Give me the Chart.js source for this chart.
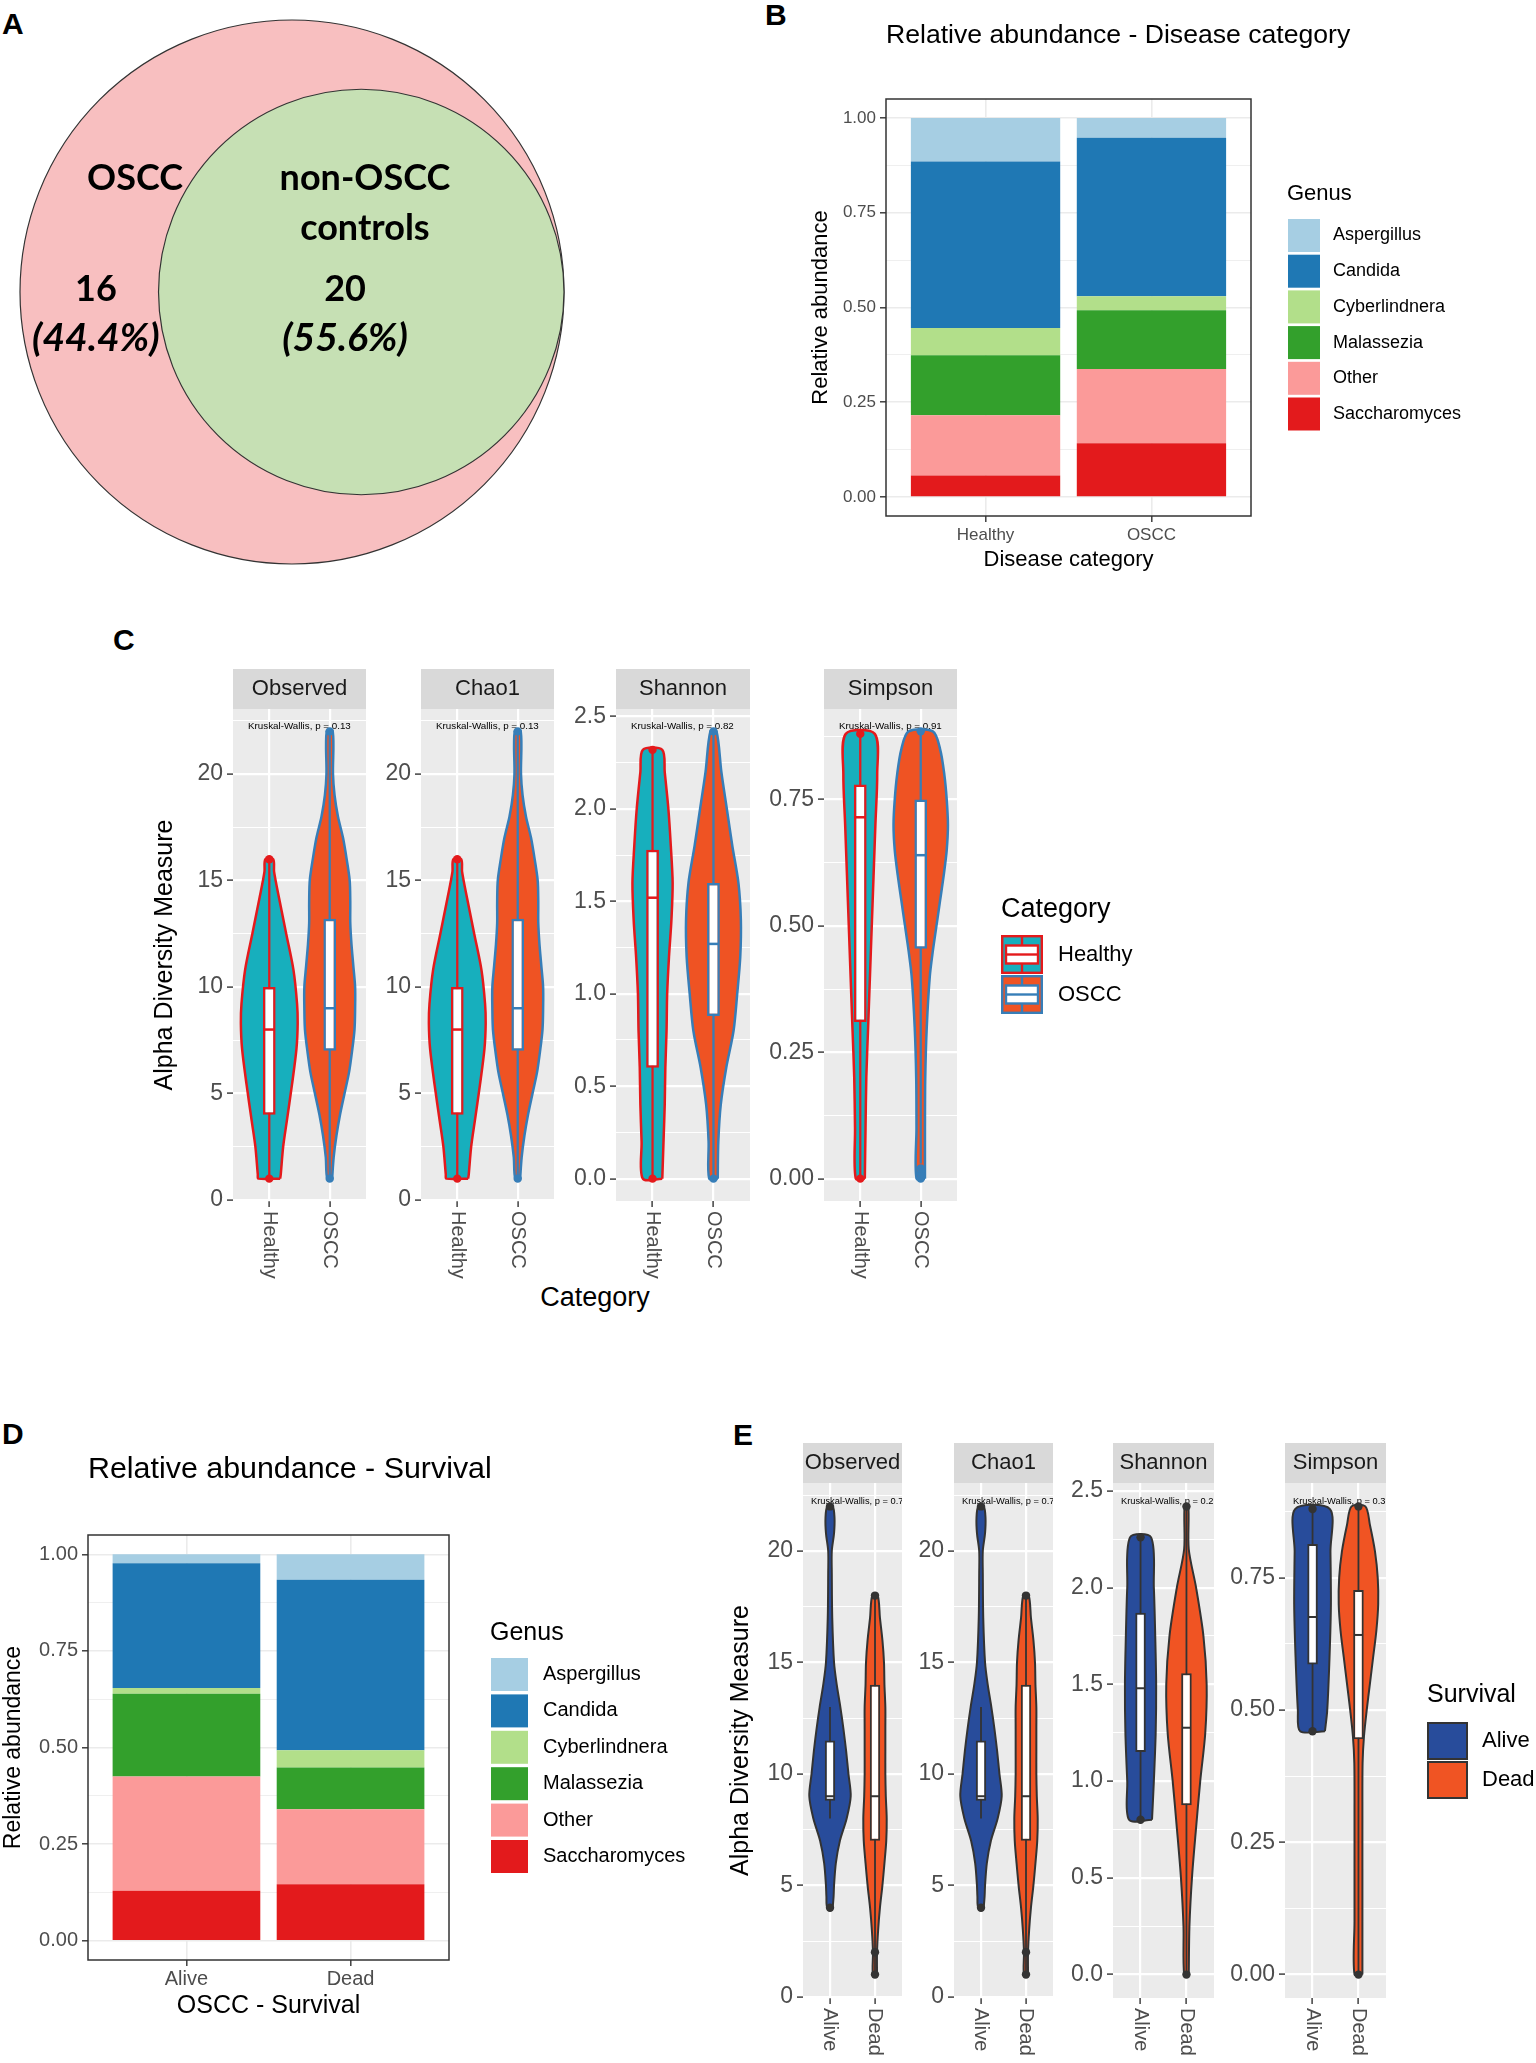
<!DOCTYPE html>
<html>
<head>
<meta charset="utf-8">
<script src="https://cdn.jsdelivr.net/npm/chart.js@4.4.1/dist/chart.umd.min.js"></script>
<style>
  html, body { margin:0; padding:0; background:#ffffff; }
  body { position:relative; width:1536px; height:2063px; overflow:hidden; font-family:'Liberation Sans', Arial, sans-serif; }
  canvas { position:absolute; }
  .plabel { position:absolute; font:bold 30px 'Liberation Sans', Arial, sans-serif; line-height:30px; color:#000; }
  .axtitle { position:absolute; white-space:nowrap; color:#000; transform:translate(-50%,-50%); font-family:'Liberation Sans', Arial, sans-serif; line-height:1; }
</style>
</head>
<body>
<div class="plabel" style="left:2px;top:9px">A</div>
<div class="plabel" style="left:765px;top:0px">B</div>
<div class="plabel" style="left:113px;top:625px">C</div>
<div class="plabel" style="left:2px;top:1419px">D</div>
<div class="plabel" style="left:733px;top:1420px">E</div>
<div class="axtitle" style="left:595px;top:1297px;font-size:27px">Category</div>
<script>
// ======================= DATA =======================
// Panel A (Venn)
const vennGroups = ['OSCC', 'non-OSCC controls'];
const vennCounts = [16, 20];
const vennPercents = ['(44.4%)', '(55.6%)'];

// Panels B & D (relative abundance, stacked)
const genera = ['Aspergillus', 'Candida', 'Cyberlindnera', 'Malassezia', 'Other', 'Saccharomyces'];
const diseaseCategories = ['Healthy', 'OSCC'];
const abundanceHealthy = [0.115, 0.439, 0.072, 0.158, 0.159, 0.057];
const abundanceOSCC    = [0.052, 0.418, 0.037, 0.155, 0.196, 0.142];
const survivalCategories = ['Alive', 'Dead'];
const abundanceAlive = [0.023, 0.323, 0.015, 0.214, 0.296, 0.129];
const abundanceDead  = [0.066, 0.441, 0.045, 0.108, 0.194, 0.146];
const abundanceTicks = [0, 0.25, 0.5, 0.75, 1];
const abundanceTickLabels = ['0.00', '0.25', '0.50', '0.75', '1.00'];

// Panels C & E (alpha diversity violins)
const alphaMetrics = ['Observed', 'Chao1', 'Shannon', 'Simpson'];
const richnessTicks = [0, 5, 10, 15, 20];
const richnessTickLabels = ['0', '5', '10', '15', '20'];
const shannonTicks = [0, 0.5, 1, 1.5, 2, 2.5];
const shannonTickLabels = ['0.0', '0.5', '1.0', '1.5', '2.0', '2.5'];
const simpsonTicks = [0, 0.25, 0.5, 0.75];
const simpsonTickLabels = ['0.00', '0.25', '0.50', '0.75'];
const cKruskalLabels = ['Kruskal-Wallis, p = 0.13', 'Kruskal-Wallis, p = 0.13', 'Kruskal-Wallis, p = 0.82', 'Kruskal-Wallis, p = 0.91'];
const eKruskalLabels = ['Kruskal-Wallis, p = 0.7', 'Kruskal-Wallis, p = 0.7', 'Kruskal-Wallis, p = 0.2', 'Kruskal-Wallis, p = 0.3'];

// C: Observed (Chao1 shows the same values)
const cObsHealthyLevels = [1, 1.2, 2.5, 3.7, 5.4, 7.1, 8.3, 9.2, 10.8, 12.5, 14.2, 15.4, 16];
const cObsHealthyWidths = [0.18, 0.19, 0.23, 0.29, 0.375, 0.45, 0.47, 0.46, 0.40, 0.28, 0.16, 0.08, 0.065];
const cObsHealthyBox = [1, 4, 8, 10, 16];
const cObsHealthyPoints = [1, 16];
const cObsOsccLevels = [1, 2, 3, 4, 5, 6, 7, 8, 9, 10, 11, 12, 13, 14, 15, 16, 17, 18, 19, 20, 22];
const cObsOsccWidths = [0.04, 0.065, 0.11, 0.17, 0.245, 0.32, 0.37, 0.41, 0.42, 0.42, 0.39, 0.36, 0.34, 0.34, 0.33, 0.28, 0.22, 0.136, 0.08, 0.054, 0.05];
const cObsOsccBox = [1, 7, 9, 13.2, 22];
const cObsOsccPoints = [1, 22];
// C: Shannon
const cShanHealthyLevels = [0, 0.2, 0.4, 0.6, 0.8, 1.0, 1.2, 1.4, 1.6, 1.8, 2.0, 2.2, 2.32];
const cShanHealthyWidths = [0.16, 0.18, 0.20, 0.21, 0.23, 0.24, 0.27, 0.31, 0.33, 0.30, 0.26, 0.20, 0.16];
const cShanHealthyBox = [0, 0.6, 1.52, 1.78, 2.32];
const cShanHealthyPoints = [0, 2.32];
const cShanOsccLevels = [0, 0.2, 0.4, 0.6, 0.8, 1.0, 1.2, 1.4, 1.6, 1.8, 2.0, 2.2, 2.42];
const cShanOsccWidths = [0.07, 0.08, 0.12, 0.21, 0.33, 0.39, 0.44, 0.45, 0.41, 0.31, 0.22, 0.13, 0.05];
const cShanOsccBox = [0, 0.88, 1.27, 1.6, 2.42];
const cShanOsccPoints = [0, 2.42];
// C: Simpson
const cSimpHealthyLevels = [0, 0.1, 0.2, 0.3, 0.4, 0.5, 0.6, 0.7, 0.8, 0.88];
const cSimpHealthyWidths = [0.075, 0.087, 0.10, 0.13, 0.16, 0.19, 0.22, 0.25, 0.28, 0.24];
const cSimpHealthyBox = [0, 0.31, 0.715, 0.78, 0.88];
const cSimpHealthyPoints = [0, 0.88];
const cSimpOsccLevels = [0, 0.1, 0.2, 0.3, 0.4, 0.45, 0.5, 0.55, 0.6, 0.65, 0.7, 0.75, 0.8, 0.85, 0.885];
const cSimpOsccWidths = [0.07, 0.07, 0.075, 0.10, 0.15, 0.20, 0.26, 0.32, 0.38, 0.43, 0.45, 0.43, 0.39, 0.32, 0.20];
const cSimpOsccBox = [0.03, 0.455, 0.64, 0.75, 0.885];
const cSimpOsccPoints = [0, 0.01, 0.02, 0.885];

// E: Observed (Chao1 shows the same values)
const eObsAliveLevels = [4, 4.5, 5, 6, 7, 8, 9, 10, 11, 12, 13, 14, 15, 17, 19, 20, 20.8, 21.5, 22];
const eObsAliveWidths = [0.06, 0.08, 0.09, 0.13, 0.22, 0.37, 0.46, 0.41, 0.36, 0.30, 0.23, 0.15, 0.09, 0.05, 0.04, 0.04, 0.09, 0.10, 0.06];
const eObsAliveBox = [8, 8.8, 9, 11.5, 13];
const eObsAlivePoints = [4, 22];
const eObsDeadLevels = [1, 2, 3, 4, 5, 6, 7, 8, 9, 10, 11, 12, 13, 14, 15, 16, 17, 18];
const eObsDeadWidths = [0.045, 0.045, 0.07, 0.11, 0.165, 0.21, 0.25, 0.26, 0.24, 0.23, 0.23, 0.23, 0.23, 0.21, 0.2, 0.165, 0.11, 0.06];
const eObsDeadBox = [1, 7, 9, 14, 18];
const eObsDeadPoints = [1, 2, 18];
// E: Shannon
const eShanAliveLevels = [0.8, 1.0, 1.25, 1.5, 1.75, 2.0, 2.26];
const eShanAliveWidths = [0.25, 0.29, 0.33, 0.34, 0.32, 0.29, 0.23];
const eShanAliveBox = [0.8, 1.15, 1.48, 1.87, 2.26];
const eShanAlivePoints = [0.8, 2.26];
const eShanDeadLevels = [0, 0.25, 0.5, 0.76, 1.0, 1.25, 1.5, 1.75, 2.0, 2.2, 2.42];
const eShanDeadWidths = [0.05, 0.065, 0.12, 0.21, 0.30, 0.41, 0.44, 0.37, 0.21, 0.05, 0.04];
const eShanDeadBox = [0, 0.875, 1.276, 1.557, 2.42];
const eShanDeadPoints = [0, 2.42];
// E: Simpson
const eSimpAliveLevels = [0.46, 0.5, 0.6, 0.7, 0.8, 0.88];
const eSimpAliveWidths = [0.27, 0.32, 0.37, 0.40, 0.39, 0.38];
const eSimpAliveBox = [0.46, 0.586, 0.676, 0.814, 0.88];
const eSimpAlivePoints = [0.46, 0.88];
const eSimpDeadLevels = [0, 0.1, 0.2, 0.3, 0.4, 0.45, 0.5, 0.55, 0.6, 0.65, 0.7, 0.75, 0.8, 0.85, 0.885];
const eSimpDeadWidths = [0.086, 0.086, 0.086, 0.086, 0.09, 0.12, 0.18, 0.25, 0.32, 0.39, 0.43, 0.42, 0.36, 0.25, 0.15];
const eSimpDeadBox = [0, 0.445, 0.642, 0.727, 0.885];
const eSimpDeadPoints = [0, 0.885];

// ======================= STYLE =======================
const FONT = "'Liberation Sans', Arial, Helvetica, sans-serif";
const genusColors = ['#A6CEE3', '#1F78B4', '#B2DF8A', '#33A02C', '#FB9A99', '#E31A1C'];
const cStyles = [{fill:'#17AFBD', line:'#E41A1C'}, {fill:'#EF5323', line:'#377EB8'}];
const eStyles = [{fill:'#284C9B', line:'#333333'}, {fill:'#F05423', line:'#333333'}];

// ======================= HELPERS =======================
function addCanvas(l, t, w, h) {
  const c = document.createElement('canvas');
  c.width = w; c.height = h;
  c.style.left = l + 'px'; c.style.top = t + 'px';
  c.style.width = w + 'px'; c.style.height = h + 'px';
  document.body.appendChild(c);
  return c;
}
const near = (a, b) => Math.abs(a - b) < 1e-6;
function tickSet(majors, min, max) {
  const step = majors[1] - majors[0];
  const vals = [];
  majors.forEach(m => { vals.push(m - step / 2, m, m + step / 2); });
  const uniq = [];
  vals.forEach(v => { if (v >= min - 1e-9 && v <= max + 1e-9 && !uniq.some(u => near(u, v))) uniq.push(v); });
  return uniq.sort((a, b) => a - b);
}
function yScaleGG(o) {
  const isMajor = c => c.tick && o.majors.some(m => near(m, c.tick.value));
  return {
    type: 'linear', min: o.min, max: o.max, stacked: !!o.stacked, offset: false,
    afterBuildTicks: s => { s.ticks = tickSet(o.majors, o.min, o.max).map(v => ({value: v})); },
    afterFit: s => { s.width = o.width; },
    ticks: {
      autoSkip: false, padding: 4, color: '#4D4D4D', font: {family: FONT, size: o.tickSize},
      callback: v => { const i = o.majors.findIndex(m => near(m, v)); return i >= 0 ? o.labels[i] : ''; }
    },
    grid: {
      color: o.gridColor, lineWidth: c => isMajor(c) ? o.majorW : o.minorW,
      drawTicks: true, tickLength: 6, tickWidth: 1.4,
      tickColor: c => isMajor(c) ? '#333333' : 'rgba(0,0,0,0)'
    },
    border: {display: false},
    title: o.title ? {display: true, text: o.title, color: '#000', font: {family: FONT, size: o.titleSize},
      padding: {top: o.titlePad, bottom: 0}} : {display: false}
  };
}

// ======================= PANEL A : Venn =======================
(function () {
  const cx = 292, cy = 292, R = 272, half = 285;
  const canvas = addCanvas(cx - half, cy - half, half * 2, half * 2);
  const total = vennCounts[0] + vennCounts[1];
  const rOuter = 1;                                   // whole cohort (OSCC + controls)
  const rInner = Math.sqrt(vennCounts[1] / total);    // controls, area-proportional
  const lim = half / R;
  const pxR = (chart, r) => Math.abs(chart.scales.x.getPixelForValue(r) - chart.scales.x.getPixelForValue(0));
  const vennText = {
    id: 'vennText',
    afterDatasetsDraw(chart) {
      const {ctx, scales: {x, y}} = chart;
      const P = (a, b) => [x.getPixelForValue(a), y.getPixelForValue(b)];
      ctx.save();
      ctx.fillStyle = '#000'; ctx.textAlign = 'center'; ctx.textBaseline = 'middle';
      ctx.font = "bold 36px Lato, 'Open Sans', sans-serif";
      ctx.fillText(vennGroups[0], ...P(-0.577, 0.419));
      const parts = vennGroups[1].split(' ');
      ctx.fillText(parts[0], ...P(0.268, 0.419));
      ctx.fillText(parts[1], ...P(0.268, 0.235));
      ctx.fillText(String(vennCounts[0]), ...P(-0.721, 0.011));
      ctx.fillText(String(vennCounts[1]), ...P(0.195, 0.011));
      ctx.font = "italic bold 39px Lato, 'Open Sans', sans-serif";
      ctx.fillText(vennPercents[0], ...P(-0.721, -0.169));
      ctx.fillText(vennPercents[1], ...P(0.195, -0.169));
      ctx.restore();
    }
  };
  new Chart(canvas, {
    type: 'scatter',
    data: {datasets: [
      {data: [{x: 1 - rInner, y: 0, rr: rInner}], backgroundColor: '#C6E0B4', borderColor: '#333333', borderWidth: 1.2,
       pointRadius: c => c.raw ? pxR(c.chart, c.raw.rr) : 0, pointHoverRadius: c => c.raw ? pxR(c.chart, c.raw.rr) : 0, order: 1, clip: false},
      {data: [{x: 0, y: 0, rr: rOuter}], backgroundColor: '#F8BFC0', borderColor: '#333333', borderWidth: 1.2,
       pointRadius: c => c.raw ? pxR(c.chart, c.raw.rr) : 0, pointHoverRadius: c => c.raw ? pxR(c.chart, c.raw.rr) : 0, order: 2, clip: false}
    ]},
    options: {
      responsive: false, animation: false, events: [],
      layout: {padding: 0},
      plugins: {legend: {display: false}, tooltip: {enabled: false}},
      scales: {x: {type: 'linear', min: -lim, max: lim, display: false}, y: {type: 'linear', min: -lim, max: lim, display: false}}
    },
    plugins: [vennText]
  });
})();

// ======================= PANELS B & D : stacked bars =======================
function genusLegend(o) {
  return {
    id: 'genusLegend',
    afterDraw(chart) {
      const ctx = chart.ctx;
      ctx.save();
      ctx.textAlign = 'left'; ctx.textBaseline = 'middle';
      ctx.fillStyle = '#000'; ctx.font = o.titleSize + 'px ' + FONT;
      ctx.fillText('Genus', o.titleX, o.titleY);
      ctx.font = o.labelSize + 'px ' + FONT;
      genera.forEach((g, i) => {
        const top = o.firstTop + i * o.step;
        ctx.fillStyle = genusColors[i];
        ctx.fillRect(o.keyX, top, o.keyW, o.keyH);
        ctx.fillStyle = '#000';
        ctx.fillText(g, o.labelX, top + o.keyH / 2);
      });
      ctx.restore();
    }
  };
}
function plotTitle(text, size, cy) {
  return {
    id: 'plotTitle',
    afterDraw(chart) {
      const ctx = chart.ctx;
      ctx.save();
      ctx.fillStyle = '#000'; ctx.font = size + 'px ' + FONT;
      ctx.textAlign = 'left'; ctx.textBaseline = 'middle';
      ctx.fillText(text, chart.chartArea.left, cy);
      ctx.restore();
    }
  };
}
const panelFrame = {
  id: 'panelFrame',
  afterDatasetsDraw(chart) {
    const {ctx, chartArea: a} = chart;
    ctx.save(); ctx.strokeStyle = '#333333'; ctx.lineWidth = 1.5;
    ctx.strokeRect(a.left, a.top, a.right - a.left, a.bottom - a.top);
    ctx.restore();
  }
};
function makeAbundance(g) {
  const canvas = addCanvas(g.cl, g.ct, g.cw, g.ch);
  const cats = g.cats;
  const stackOrder = genera.map((_, i) => i).reverse();   // Saccharomyces at the bottom
  const datasets = stackOrder.map(gi => ({
    type: 'bar', label: genera[gi],
    data: cats.map((c, ci) => ({x: ci + 1, y: g.values[ci][gi]})),
    backgroundColor: genusColors[gi], borderWidth: 0,
    barPercentage: 0.9, categoryPercentage: 1
  }));
  new Chart(canvas, {
    type: 'bar',
    data: {datasets},
    options: {
      responsive: false, animation: false, events: [],
      layout: {padding: {left: 0, right: g.padR, top: g.plotTop, bottom: g.padB}},
      plugins: {legend: {display: false}, tooltip: {enabled: false}, title: {display: false}},
      scales: {
        x: {
          type: 'linear', min: 0.4, max: 2.6, stacked: true, offset: false,
          afterBuildTicks: s => { s.ticks = cats.map((c, i) => ({value: i + 1})); },
          afterFit: s => { s.height = g.xH; },
          ticks: {autoSkip: false, maxRotation: 0, minRotation: 0, padding: g.xTickPad, color: '#4D4D4D',
            font: {family: FONT, size: g.tickSize}, callback: v => cats[Math.round(v) - 1]},
          grid: {offset: false, color: '#EBEBEB', lineWidth: 1.6, tickLength: 6, tickWidth: 1.4, tickColor: '#333333'},
          border: {display: false},
          title: {display: true, text: g.xTitle, color: '#000', font: {family: FONT, size: g.xTitleSize}, padding: {top: 0, bottom: 0}}
        },
        y: yScaleGG({min: -0.05, max: 1.05, stacked: true, majors: abundanceTicks, labels: abundanceTickLabels,
          width: g.yW, tickSize: g.tickSize, gridColor: '#EBEBEB', majorW: 1.6, minorW: 0.8,
          title: 'Relative abundance', titleSize: g.yTitleSize, titlePad: g.yTitlePad})
      }
    },
    plugins: [panelFrame, genusLegend(g.legend), plotTitle(g.title, g.titleSize, g.titleY)]
  });
}
makeAbundance({
  cl: 780, ct: 0, cw: 756, ch: 600, cats: diseaseCategories, values: [abundanceHealthy, abundanceOSCC],
  plotTop: 99, padR: 285, padB: 26.8, yW: 106, xH: 57.2, xTickPad: 2.8, tickSize: 17,
  title: 'Relative abundance - Disease category', titleSize: 26.6, titleY: 36,
  xTitle: 'Disease category', xTitleSize: 22, yTitleSize: 22, yTitlePad: 28,
  legend: {titleX: 507, titleY: 194, titleSize: 22, keyX: 508, keyW: 32, keyH: 33, firstTop: 219, step: 35.7, labelX: 553, labelSize: 18}
});
makeAbundance({
  cl: 0, ct: 1400, cw: 720, ch: 663, cats: survivalCategories, values: [abundanceAlive, abundanceDead],
  plotTop: 135, padR: 271, padB: 42, yW: 88, xH: 61, xTickPad: 1, tickSize: 20,
  title: 'Relative abundance - Survival', titleSize: 30.4, titleY: 70,
  xTitle: 'OSCC - Survival', xTitleSize: 25, yTitleSize: 23, yTitlePad: 0.2,
  legend: {titleX: 490, titleY: 233, titleSize: 25, keyX: 491, keyW: 37, keyH: 33, firstTop: 258, step: 36.4, labelX: 543, labelSize: 20}
});

// ======================= PANELS C & E : violins =======================
function outline(c, levels, widths) {
  const pts = [];
  for (let i = 0; i < levels.length; i++) pts.push({x: c + widths[i], y: levels[i]});
  for (let i = levels.length - 1; i >= 0; i--) pts.push({x: c - widths[i], y: levels[i]});
  pts.push({x: c + widths[0], y: levels[0]});
  return pts;
}
const halfBoxPx = (chart, bw) => Math.abs(chart.scales.x.getPixelForValue(1 + bw / 2) - chart.scales.x.getPixelForValue(1));
function violinDatasets(groups, bw, lw) {
  const ds = [];
  groups.forEach((g, gi) => {
    const c = gi + 1;
    ds.push({type: 'line', data: outline(c, g.levels, g.widths), fill: 'shape', backgroundColor: g.fill,
      borderColor: g.line, borderWidth: lw, pointRadius: 0, pointHoverRadius: 0, tension: 0.3, order: 5});
    ds.push({type: 'line', data: [{x: c, y: g.box[0]}, {x: c, y: g.box[4]}], fill: false,
      borderColor: g.line, borderWidth: lw * 0.9, pointRadius: 0, pointHoverRadius: 0, order: 4});
  });
  ds.push({type: 'bar', data: groups.map((g, gi) => ({x: gi + 1, y: [g.box[1], g.box[3]]})),
    backgroundColor: '#FFFFFF', borderColor: groups.map(g => g.line), borderWidth: lw, borderSkipped: false,
    barPercentage: bw, categoryPercentage: 1, order: 3});
  ds.push({type: 'scatter', data: groups.map((g, gi) => ({x: gi + 1, y: g.box[2]})), pointStyle: 'line',
    pointRadius: c => Math.max(1, halfBoxPx(c.chart, bw) - 1), pointHoverRadius: c => Math.max(1, halfBoxPx(c.chart, bw) - 1),
    pointBorderColor: groups.map(g => g.line), pointBorderWidth: lw, order: 2});
  ds.push({type: 'scatter', data: groups.flatMap((g, gi) => g.points.map(p => ({x: gi + 1, y: p}))),
    pointRadius: 4.2, pointHoverRadius: 4.2, pointBackgroundColor: groups.flatMap(g => g.points.map(() => g.dot)),
    pointBorderWidth: 0, order: 1});
  return ds;
}
function boxLegend(o, offX, offY) {
  return {
    id: 'boxLegend',
    afterDraw(chart) {
      const ctx = chart.ctx;
      ctx.save();
      ctx.translate(-offX, -offY);
      ctx.textAlign = 'left'; ctx.textBaseline = 'middle';
      ctx.fillStyle = '#000'; ctx.font = o.titleSize + 'px ' + FONT;
      ctx.fillText(o.title, o.x, o.titleY);
      o.items.forEach((it, i) => {
        const top = o.firstTop + i * o.step, l = o.x, w = o.keyW, h = o.keyH;
        ctx.fillStyle = it.fill; ctx.fillRect(l, top, w, h);
        ctx.lineWidth = o.lw; ctx.strokeStyle = it.line;
        ctx.strokeRect(l + o.lw / 2, top + o.lw / 2, w - o.lw, h - o.lw);
        if (o.boxGlyph) {
          const bx = l + 5, bw = w - 10, bh = 18, by = top + h / 2 - bh / 2, cxm = l + w / 2;
          ctx.beginPath(); ctx.moveTo(cxm, top); ctx.lineTo(cxm, by); ctx.moveTo(cxm, by + bh); ctx.lineTo(cxm, top + h); ctx.stroke();
          ctx.fillStyle = '#FFFFFF'; ctx.fillRect(bx, by, bw, bh); ctx.strokeRect(bx, by, bw, bh);
          ctx.beginPath(); ctx.moveTo(bx, by + bh / 2); ctx.lineTo(bx + bw, by + bh / 2); ctx.stroke();
        }
        ctx.fillStyle = '#000'; ctx.font = o.labelSize + 'px ' + FONT;
        ctx.fillText(it.label, o.labelX, top + h / 2);
      });
      ctx.restore();
    }
  };
}
function makeViolinPanel(p) {
  const canvasT = p.stripTop - 10;
  const W = p.canvasR - p.canvasL, H = p.canvasB - canvasT;
  const canvas = addCanvas(p.canvasL, canvasT, W, H);
  const yW = p.plotL - p.canvasL;
  const padR = p.canvasR - p.plotR;
  const padB = H - (p.plotB - canvasT) - 6;
  const plugins = [
    {id: 'ggBack', beforeDraw(chart) {
      const {ctx, chartArea: a} = chart; const tb = chart.titleBlock;
      ctx.save();
      ctx.fillStyle = '#EBEBEB'; ctx.fillRect(a.left, a.top, a.right - a.left, a.bottom - a.top);
      if (tb) { ctx.fillStyle = '#D9D9D9'; ctx.fillRect(tb.left, tb.top, tb.width, tb.height); }
      ctx.restore();
    }},
    {id: 'ggPText', beforeDatasetsDraw(chart) {
      const {ctx, chartArea: a} = chart;
      ctx.save(); ctx.beginPath(); ctx.rect(a.left, a.top, a.right - a.left, a.bottom - a.top); ctx.clip();
      ctx.fillStyle = '#000'; ctx.font = p.pSize + 'px ' + FONT; ctx.textAlign = 'left'; ctx.textBaseline = 'middle';
      ctx.fillText(p.pText, a.left + p.pOffX, a.top + p.pOffY);
      ctx.restore();
    }},
    {id: 'ggXLabels', afterDraw(chart) {
      const {ctx, chartArea: a, scales: {x}} = chart;
      ctx.save(); ctx.fillStyle = '#4D4D4D'; ctx.font = p.xTickSize + 'px ' + FONT;
      ctx.textAlign = 'left'; ctx.textBaseline = 'middle';
      p.cats.forEach((c, i) => {
        ctx.save(); ctx.translate(x.getPixelForValue(i + 1), a.bottom + 10); ctx.rotate(Math.PI / 2);
        ctx.fillText(c, 0, 0); ctx.restore();
      });
      ctx.restore();
    }}
  ];
  if (p.legend) plugins.push(boxLegend(p.legend, p.canvasL, canvasT));
  new Chart(canvas, {
    type: 'scatter',
    data: {datasets: violinDatasets(p.groups, p.boxW, p.lw)},
    options: {
      responsive: false, animation: false, events: [],
      layout: {padding: {left: 0, right: padR, top: 10, bottom: padB}},
      plugins: {
        legend: {display: false}, tooltip: {enabled: false},
        title: {display: true, text: p.metric, align: 'center', fullSize: false, color: '#1A1A1A',
          font: {family: FONT, size: 22, weight: 'normal'}, padding: {top: 6.8, bottom: 6.8}}
      },
      scales: {
        x: {type: 'linear', min: 0.4, max: 2.6, offset: false,
          afterBuildTicks: s => { s.ticks = p.cats.map((c, i) => ({value: i + 1})); },
          afterFit: s => { s.height = 6; },
          ticks: {display: false},
          grid: {offset: false, color: '#FFFFFF', lineWidth: 2.2, drawTicks: true, tickLength: 6, tickWidth: 1.4, tickColor: '#333333'},
          border: {display: false}},
        y: yScaleGG({min: p.yMin, max: p.yMax, majors: p.majors, labels: p.labels, width: yW, tickSize: 23,
          gridColor: '#FFFFFF', majorW: 2.2, minorW: 1.1,
          title: p.yTitle, titleSize: 25, titlePad: 2})
      }
    },
    plugins
  });
}
function groupsOf(styles, arrs) {
  return arrs.map((a, i) => ({levels: a[0], widths: a[1], box: a[2], points: a[3], fill: styles[i].fill, line: styles[i].line, dot: styles[i].line}));
}
const ranges = {
  rich: {yMin: -0.05, yMax: 23.05, majors: richnessTicks, labels: richnessTickLabels},
  shan: {yMin: -0.121, yMax: 2.541, majors: shannonTicks, labels: shannonTickLabels},
  simp: {yMin: -0.04425, yMax: 0.92925, majors: simpsonTicks, labels: simpsonTickLabels}
};
const cGroups = [
  groupsOf(cStyles, [[cObsHealthyLevels, cObsHealthyWidths, cObsHealthyBox, cObsHealthyPoints], [cObsOsccLevels, cObsOsccWidths, cObsOsccBox, cObsOsccPoints]]),
  groupsOf(cStyles, [[cObsHealthyLevels, cObsHealthyWidths, cObsHealthyBox, cObsHealthyPoints], [cObsOsccLevels, cObsOsccWidths, cObsOsccBox, cObsOsccPoints]]),
  groupsOf(cStyles, [[cShanHealthyLevels, cShanHealthyWidths, cShanHealthyBox, cShanHealthyPoints], [cShanOsccLevels, cShanOsccWidths, cShanOsccBox, cShanOsccPoints]]),
  groupsOf(cStyles, [[cSimpHealthyLevels, cSimpHealthyWidths, cSimpHealthyBox, cSimpHealthyPoints], [cSimpOsccLevels, cSimpOsccWidths, cSimpOsccBox, cSimpOsccPoints]])
];
const eGroups = [
  groupsOf(eStyles, [[eObsAliveLevels, eObsAliveWidths, eObsAliveBox, eObsAlivePoints], [eObsDeadLevels, eObsDeadWidths, eObsDeadBox, eObsDeadPoints]]),
  groupsOf(eStyles, [[eObsAliveLevels, eObsAliveWidths, eObsAliveBox, eObsAlivePoints], [eObsDeadLevels, eObsDeadWidths, eObsDeadBox, eObsDeadPoints]]),
  groupsOf(eStyles, [[eShanAliveLevels, eShanAliveWidths, eShanAliveBox, eShanAlivePoints], [eShanDeadLevels, eShanDeadWidths, eShanDeadBox, eShanDeadPoints]]),
  groupsOf(eStyles, [[eSimpAliveLevels, eSimpAliveWidths, eSimpAliveBox, eSimpAlivePoints], [eSimpDeadLevels, eSimpDeadWidths, eSimpDeadBox, eSimpDeadPoints]])
];
const metricRanges = [ranges.rich, ranges.rich, ranges.shan, ranges.simp];

// Panel C layout
const cPlotL = [233, 421, 616, 824], cPlotR = [366, 554, 750, 957];
alphaMetrics.forEach((m, i) => {
  makeViolinPanel(Object.assign({
    metric: m, cats: diseaseCategories, groups: cGroups[i],
    plotL: cPlotL[i], plotR: cPlotR[i], plotB: 1201, stripTop: 669,
    canvasL: i === 0 ? 148 : cPlotL[i] - 66, canvasR: i === 3 ? 1160 : cPlotR[i] + 6, canvasB: 1300,
    boxW: 0.21, lw: 2.5, pText: cKruskalLabels[i], pSize: 9.8, pOffX: 15, pOffY: 17, xTickSize: 20,
    yTitle: i === 0 ? 'Alpha Diversity Measure' : null,
    legend: i === 3 ? {title: 'Category', titleSize: 27, x: 1001, titleY: 910, firstTop: 935, step: 40, keyW: 42, keyH: 39,
      lw: 2.4, boxGlyph: true, labelX: 1058, labelSize: 22,
      items: diseaseCategories.map((c, k) => ({label: c, fill: cStyles[k].fill, line: cStyles[k].line}))} : null
  }, metricRanges[i]));
});

// Panel E layout
const ePlotL = [803, 954, 1113, 1285], ePlotR = [902, 1053, 1214, 1386];
alphaMetrics.forEach((m, i) => {
  makeViolinPanel(Object.assign({
    metric: m, cats: survivalCategories, groups: eGroups[i],
    plotL: ePlotL[i], plotR: ePlotR[i], plotB: 1998, stripTop: 1443,
    canvasL: i === 0 ? 724 : ePlotL[i] - 66, canvasR: i === 3 ? 1536 : ePlotR[i] + 6, canvasB: 2063,
    boxW: 0.23, lw: 2, pText: eKruskalLabels[i], pSize: 9.3, pOffX: 8, pOffY: 18, xTickSize: 20,
    yTitle: i === 0 ? 'Alpha Diversity Measure' : null,
    legend: i === 3 ? {title: 'Survival', titleSize: 25, x: 1427, titleY: 1695, firstTop: 1722, step: 39, keyW: 41, keyH: 38,
      lw: 2, boxGlyph: false, labelX: 1482, labelSize: 22,
      items: survivalCategories.map((c, k) => ({label: c, fill: eStyles[k].fill, line: eStyles[k].line}))} : null
  }, metricRanges[i]));
});
</script>
</body>
</html>
